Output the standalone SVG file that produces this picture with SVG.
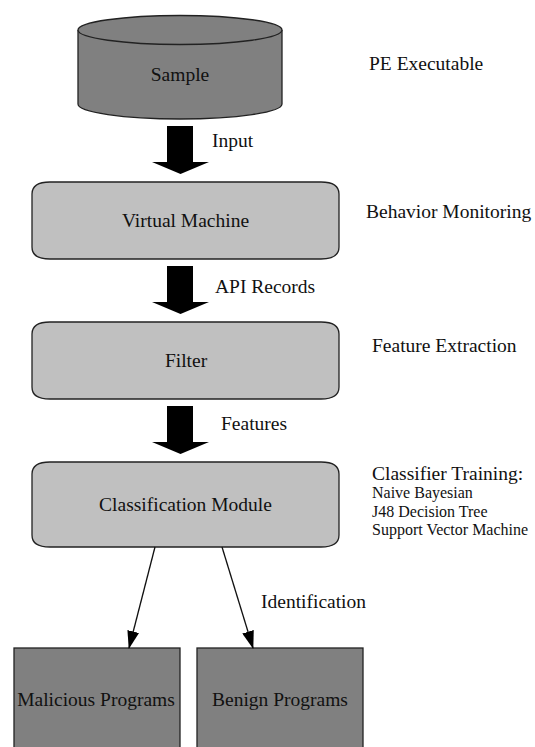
<svg xmlns="http://www.w3.org/2000/svg" width="535" height="747" viewBox="0 0 535 747">
<style>
text { font-family: "Liberation Serif", "Times New Roman", serif; fill: #111; }
.n { font-size: 19.5px; text-anchor: middle; }
.lbl { font-size: 19.5px; }
.sm { font-size: 16px; }
.dark { fill: #808080; stroke: #222; stroke-width: 1.3; }
.light { fill: #c0c0c0; stroke: #222; stroke-width: 1.3; }
.edge { stroke: #111; stroke-width: 1.3; fill: none; }
.big { fill: #000; }
</style>
<defs>
<marker id="ah" markerWidth="18" markerHeight="12" refX="17" refY="6" orient="auto" markerUnits="userSpaceOnUse">
<path d="M0,0 L18,6 L0,12 Z" fill="#000"/>
</marker>
</defs>
<rect width="535" height="747" fill="#fff"/>

<g id="sample">
<path class="dark" d="M78,30 A102,14.5 0 0,1 282,30 L282,104 A102,15 0 0,1 78,104 Z"/>
<path class="dark" d="M78,30 A102,14.5 0 0,0 282,30" fill="none"/>
<text class="n" x="180" y="81">Sample</text>
</g>

<g id="virtual-machine">
<path class="light" d="M50,182 L321,182 C334,182 339,186 339,194 L339,247 C339,255 334,259 321,259 L50,259 C37,259 32,255 32,247 L32,194 C32,186 37,182 50,182 Z"/>
<text class="n" x="185.5" y="227">Virtual Machine</text>
</g>

<g id="filter">
<path class="light" d="M50,322 L321,322 C334,322 339,326 339,334 L339,387 C339,395 334,399 321,399 L50,399 C37,399 32,395 32,387 L32,334 C32,326 37,322 50,322 Z"/>
<text class="n" x="186" y="367">Filter</text>
</g>

<g id="classification">
<path class="light" d="M50,462 L321,462 C334,462 339,466 339,474 L339,535 C339,543 334,547 321,547 L50,547 C37,547 32,543 32,535 L32,474 C32,466 37,462 50,462 Z"/>
<text class="n" x="185.5" y="511">Classification Module</text>
</g>

<g id="malicious">
<rect class="dark" x="14" y="648" width="166" height="110"/>
<text class="n" x="96" y="706">Malicious Programs</text>
</g>

<g id="benign">
<rect class="dark" x="197" y="648" width="166" height="110"/>
<text class="n" x="280" y="706">Benign Programs</text>
</g>

<g id="connectors">
<polygon class="big" points="167,126 193,126 193,162 209,162 180.5,174 152,162 167,162"/>
<polygon class="big" points="167,266 193,266 193,302 209,302 180.5,314 152,302 167,302"/>
<polygon class="big" points="167,406 193,406 193,442 209,442 180.5,454 152,442 167,442"/>
<line class="edge" x1="155" y1="547" x2="129" y2="648" marker-end="url(#ah)"/>
<line class="edge" x1="222" y1="547" x2="253" y2="648" marker-end="url(#ah)"/>
<text class="lbl" x="212" y="147">Input</text>
<text class="lbl" x="215" y="293">API Records</text>
<text class="lbl" x="221" y="430">Features</text>
<text class="lbl" x="261" y="608">Identification</text>
</g>

<g id="annotations">
<text class="lbl" x="369" y="70">PE Executable</text>
<text class="lbl" x="366" y="218">Behavior Monitoring</text>
<text class="lbl" x="372" y="352">Feature Extraction</text>
<text class="lbl" x="372" y="480">Classifier Training:</text>
<text class="sm" x="372" y="498">Naive Bayesian</text>
<text class="sm" x="372" y="517">J48 Decision Tree</text>
<text class="sm" x="372" y="535">Support Vector Machine</text>
</g>
</svg>
